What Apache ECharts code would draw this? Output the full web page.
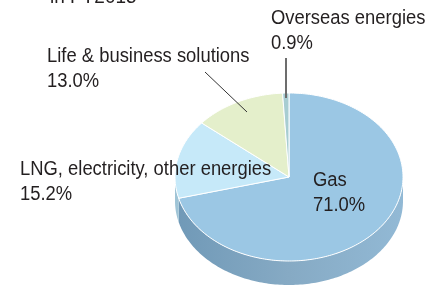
<!DOCTYPE html>
<html>
<head>
<meta charset="utf-8">
<script src="https://cdn.jsdelivr.net/npm/echarts@6/dist/echarts.min.js"></script>
<style>
  html, body { margin: 0; padding: 0; background: #fff; }
  #chart { width: 427px; height: 287px; }
</style>
</head>
<body>
<div id="chart"></div>
<script>
// 売上構成 (FY2015)
const names = ['Gas', 'LNG, electricity, other energies', 'Life & business solutions', 'Overseas energies'];
const values = [71.0, 15.2, 13.0, 0.9];
const titleText = 'in FY2015';

const topColors = ['#9bc7e4', '#c6e9f9', '#e4efcb', '#a8cdd2'];
const sideColors = [
  ['#7099b7', '#86aac4', '#92b9d5'],
  ['#9fc4d6', '#a9cddd', '#b5d8e8'],
  ['#b9c9a0', '#c4d2ab', '#cfdcb6'],
  ['#8fb0b6', '#98b8bd', '#a3c2c6']
];

const FONT = '20px "Liberation Sans", Arial, sans-serif';
const NARROW = 0.92; // 細めの書体に合わせる
const cx = 289, cy = 177, rx = 114, ry = 84, depth = 24;
const total = values.reduce((a, b) => a + b, 0);

// 角度は12時から時計回り
const pt = (t, dy) => [cx + rx * Math.sin(t), cy - ry * Math.cos(t) + (dy || 0)];
const sliceAngles = (i) => {
  let before = 0;
  for (let k = 0; k < i; k++) before += values[k];
  return [before / total * Math.PI * 2, (before + values[i]) / total * Math.PI * 2];
};
const arc = (a, b, dy) => {
  const pts = [];
  const n = Math.max(2, Math.ceil((b - a) / 0.02));
  for (let k = 0; k <= n; k++) pts.push(pt(a + (b - a) * k / n, dy));
  return pts;
};
const label = (i) => names[i] + '\n' + values[i].toFixed(1) + '%';
const textEl = (text, x, y, sx) => ({
  type: 'text', z: 10, x: x, y: y, scaleX: sx || NARROW,
  style: { text: text, x: 0, y: 0, font: FONT, lineHeight: 25, fill: '#231f20', verticalAlign: 'top' }
});

const chart = echarts.init(document.getElementById('chart'), null, { renderer: 'canvas' });

const option = {
  animation: false,
  series: [
    {
      // 側面
      type: 'custom',
      coordinateSystem: 'none',
      z: 1,
      data: values.map(v => [v]),
      renderItem: (params, api) => {
        const i = params.dataIndex;
        const [s, e] = sliceAngles(i);
        const a = Math.max(s, Math.PI / 2), b = Math.min(e, Math.PI * 1.5);
        if (b <= a) return { type: 'group', children: [] };
        const pts = arc(a, b, 0).concat(arc(a, b, depth).reverse());
        const c = sideColors[i];
        return {
          type: 'polygon',
          shape: { points: pts },
          style: {
            fill: new echarts.graphic.LinearGradient(cx - rx, 0, cx + rx, 0, [
              { offset: 0, color: c[0] },
              { offset: 0.5, color: c[1] },
              { offset: 1, color: c[2] }
            ], true)
          }
        };
      }
    },
    {
      // 上面
      type: 'custom',
      coordinateSystem: 'none',
      z: 2,
      data: values.map(v => [v]),
      renderItem: (params, api) => {
        const i = params.dataIndex;
        const [s, e] = sliceAngles(i);
        const pts = [[cx, cy]].concat(arc(s, e, 0));
        return {
          type: 'polygon',
          shape: { points: pts },
          style: { fill: topColors[i], stroke: '#ffffff', lineWidth: 1 }
        };
      }
    }
  ],
  graphic: [
    textEl(titleText, 50, -15, 0.95),
    // ラベル
    textEl(label(3), 271, 6),
    textEl(label(2), 47, 44),
    textEl(label(1), 20, 157),
    textEl(label(0), 313, 168),
    // 引き出し線
    { type: 'line', z: 9, shape: { x1: 205, y1: 72, x2: 247, y2: 112 }, style: { stroke: '#333', lineWidth: 1 } },
    { type: 'line', z: 9, shape: { x1: 286, y1: 58, x2: 286, y2: 98 }, style: { stroke: '#6d6d6d', lineWidth: 2 } }
  ]
};

chart.setOption(option);
window.addEventListener('resize', () => chart.resize());
</script>
</body>
</html>
